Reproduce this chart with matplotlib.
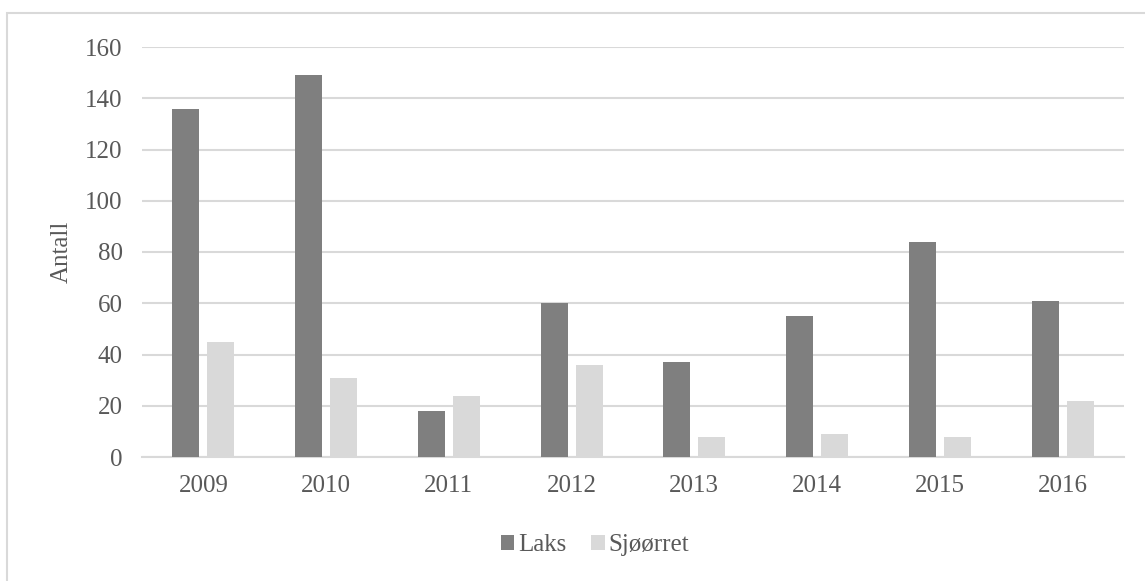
import matplotlib
matplotlib.use("Agg")
import matplotlib.pyplot as plt
import numpy as np
from matplotlib.patches import Rectangle

years = ["2009", "2010", "2011", "2012", "2013", "2014", "2015", "2016"]
laks = [136, 149, 18, 60, 37, 55, 84, 61]
sjoorret = [45, 31, 24, 36, 8, 9, 8, 22]
yticks = [0, 20, 40, 60, 80, 100, 120, 140, 160]

text_col = "#595959"
grid_col = "#d9d9d9"

plt.rcParams["font.family"] = ["Liberation Serif", "DejaVu Serif"]

fig = plt.figure(figsize=(11.45, 5.81), dpi=100)
W, H = 1145, 581

# outer chart frame (only left and top edges visible)
fig.patches.append(Rectangle((7 / W, -0.1), 1.2, 1 - 13 / H + 0.1,
                             transform=fig.transFigure, fill=False,
                             edgecolor=grid_col, linewidth=1.5))

ax = fig.add_axes([142 / W, 1 - 457 / H, (1124 - 142) / W, (457 - 47) / H])

x = np.arange(len(years))
bw = 0.22
gap = 0.065
ax.bar(x - (bw + gap) / 2, laks, bw, color="#7f7f7f", label="Laks", zorder=3)
ax.bar(x + (bw + gap) / 2, sjoorret, bw, color="#d9d9d9", label="Sjøørret", zorder=3)

ax.set_xlim(-0.5, len(years) - 0.5)
ax.set_ylim(0, 160)
ax.set_yticks(yticks)
ax.set_xticks(x)
ax.set_xticklabels(years)
ax.yaxis.grid(True, color=grid_col, linewidth=1.5, zorder=0)
ax.set_axisbelow(True)
for s in ["top", "right", "left"]:
    ax.spines[s].set_visible(False)
ax.spines["bottom"].set_color(grid_col)
ax.spines["bottom"].set_linewidth(1.5)
ax.tick_params(axis="both", length=0, labelsize=18, labelcolor=text_col)
ax.tick_params(axis="y", pad=14)
ax.tick_params(axis="x", pad=13)
ax.set_ylabel("Antall", fontsize=18, color=text_col, labelpad=9)

ax.legend(loc="center", bbox_to_anchor=(595 / W, 1 - 545 / H),
          bbox_transform=fig.transFigure, ncol=2, frameon=False,
          fontsize=18, labelcolor=text_col, handlelength=0.55,
          handleheight=0.55, handletextpad=0.15, columnspacing=1.0)

fig.savefig("out.png", dpi=100, facecolor="white")
